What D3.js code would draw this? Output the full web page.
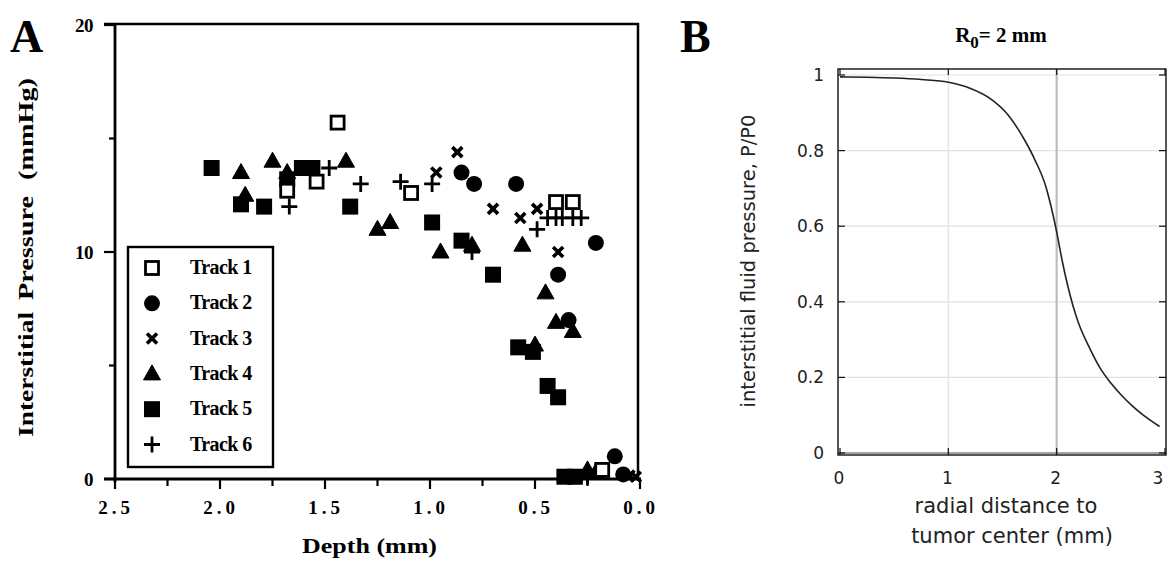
<!DOCTYPE html>
<html><head><meta charset="utf-8">
<script src="https://cdn.jsdelivr.net/npm/d3@7"></script>
<style>body{margin:0;background:#fff}svg{display:block}</style>
</head><body>
<svg id="c" width="1167" height="561"></svg>
<script>
// ---------- Panel A data (depth mm, pressure mmHg) ----------
const trackNames = ["Track 1","Track 2","Track 3","Track 4","Track 5","Track 6"];
const track1Depth = [1.44, 1.09, 1.68, 1.54, 0.40, 0.32, 0.18];
const track1P     = [15.7, 12.6, 12.7, 13.1, 12.2, 12.2, 0.4];
const track2Depth = [0.85, 0.79, 0.59, 0.21, 0.39, 0.34, 0.12, 0.08];
const track2P     = [13.5, 13.0, 13.0, 10.4, 9.0, 7.0, 1.0, 0.2];
const track3Depth = [0.87, 0.97, 0.70, 0.57, 0.49, 0.39, 0.05, 0.02];
const track3P     = [14.4, 13.5, 11.9, 11.5, 11.9, 10.0, 0.15, 0.1];
const track4Depth = [1.90, 1.75, 1.88, 1.68, 1.40, 1.25, 1.19, 0.95, 0.80, 0.56, 0.45, 0.40, 0.32, 0.50, 0.25, 0.21];
const track4P     = [13.5, 14.0, 12.5, 13.5, 14.0, 11.0, 11.3, 10.0, 10.3, 10.3, 8.2, 6.9, 6.5, 5.9, 0.4, 0.3];
const track5Depth = [2.04, 1.90, 1.79, 1.68, 1.61, 1.56, 1.38, 0.99, 0.85, 0.70, 0.58, 0.51, 0.44, 0.39, 0.36, 0.31];
const track5P     = [13.7, 12.1, 12.0, 13.2, 13.7, 13.7, 12.0, 11.3, 10.5, 9.0, 5.8, 5.6, 4.1, 3.6, 0.1, 0.1];
const track6Depth = [1.67, 1.48, 1.33, 1.14, 0.99, 0.80, 0.49, 0.44, 0.40, 0.37, 0.32, 0.28, 0.25];
const track6P     = [12.0, 13.7, 13.0, 13.1, 13.0, 10.0, 11.0, 11.5, 11.5, 11.5, 11.5, 11.5, 0.1];
const yTicksA = [0, 10, 20];
const xTicksA = ["2.5","2.0","1.5","1.0","0.5","0.0"];

// ---------- Panel B data ----------
const radius   = [0, 0.25, 0.5, 0.75, 1.0, 1.2, 1.4, 1.55, 1.7, 1.8, 1.9, 1.95, 2.0, 2.05, 2.1, 2.15, 2.2, 2.3, 2.4, 2.5, 2.6, 2.7, 2.8, 2.95];
const pressure = [0.995, 0.994, 0.992, 0.988, 0.981, 0.965, 0.935, 0.895, 0.83, 0.775, 0.705, 0.65, 0.585, 0.51, 0.445, 0.39, 0.345, 0.28, 0.225, 0.185, 0.152, 0.124, 0.10, 0.07];
const xTicksB = [0, 1, 2, 3];
const yTicksB = [0, 0.2, 0.4, 0.6, 0.8, 1];

const svg = d3.select("#c");
const serif = "'Liberation Serif','Times New Roman',serif";
const sans = "'DejaVu Sans',Verdana,sans-serif";

// ================= Panel A =================
const xA = d3.scaleLinear().domain([2.5, 0]).range([115, 640]);
const yA = d3.scaleLinear().domain([0, 20]).range([479, 25]);
const gA = svg.append("g");

// frame
gA.append("line").attr("x1",104).attr("x2",639).attr("y1",24).attr("y2",24).attr("stroke","#000").attr("stroke-width",2.5);
gA.append("line").attr("x1",638).attr("x2",638).attr("y1",23).attr("y2",480).attr("stroke","#000").attr("stroke-width",2.5);
gA.append("line").attr("x1",115).attr("x2",115).attr("y1",24).attr("y2",482).attr("stroke","#000").attr("stroke-width",2.8);
gA.append("line").attr("x1",104).attr("x2",641).attr("y1",479).attr("y2",479).attr("stroke","#000").attr("stroke-width",2.8);
// y ticks
[0,5,10,15,20].forEach(v=>{
  const major = v%10===0;
  gA.append("line").attr("x1", major?104:109).attr("x2",115).attr("y1",yA(v)).attr("y2",yA(v)).attr("stroke","#000").attr("stroke-width",2.2);
});
yTicksA.forEach(v=>{
  gA.append("text").attr("x",93).attr("y",yA(v)+7).attr("text-anchor","end")
    .attr("font-family",serif).attr("font-weight","bold").attr("font-size",19).attr("letter-spacing",-0.5).text(v);
});
// x ticks
d3.range(0, 2.51, 0.25).forEach(v=>{
  const major = Math.abs(v*2-Math.round(v*2))<1e-6;
  gA.append("line").attr("x1",xA(v)).attr("x2",xA(v)).attr("y1",479).attr("y2",major?489:486).attr("stroke","#000").attr("stroke-width",2.2);
});
xTicksA.forEach(t=>{
  gA.append("text").attr("x",xA(+t)+1).attr("y",514).attr("text-anchor","middle")
    .attr("font-family",serif).attr("font-weight","bold").attr("font-size",19).attr("letter-spacing",4).text(t);
});
gA.append("text").attr("x",302).attr("y",553)
  .attr("font-family",serif).attr("font-weight","bold").attr("font-size",21)
  .attr("textLength",135).attr("lengthAdjust","spacingAndGlyphs").text("Depth (mm)");
// y label as three words
[["Interstitial",437,125],["Pressure",300,104],["(mmHg)",180,102]].forEach(([w,y0,len])=>{
  gA.append("text").attr("transform",`translate(33,${y0}) rotate(-90)`)
    .attr("font-family",serif).attr("font-weight","bold").attr("font-size",22)
    .attr("textLength",len).attr("lengthAdjust","spacingAndGlyphs").text(w);
});
gA.append("text").attr("x",10).attr("y",52).attr("font-family",serif).attr("font-weight","bold").attr("font-size",46).text("A");

// marker drawing
function drawMarker(g, type, cx, cy) {
  if (type===0) {
    g.append("rect").attr("x",cx-6.5).attr("y",cy-6.5).attr("width",13).attr("height",13)
      .attr("fill","#fff").attr("stroke","#000").attr("stroke-width",2.8);
  } else if (type===1) {
    g.append("circle").attr("cx",cx).attr("cy",cy).attr("r",8).attr("fill","#000");
  } else if (type===2) {
    g.append("path").attr("d",`M${cx-5},${cy-5}L${cx+5},${cy+5}M${cx+5},${cy-5}L${cx-5},${cy+5}`)
      .attr("stroke","#000").attr("stroke-width",3.6).attr("fill","none");
  } else if (type===3) {
    g.append("path").attr("d",`M${cx},${cy-9}L${cx+8.5},${cy+6}L${cx-8.5},${cy+6}Z`).attr("fill","#000")
      .attr("stroke","#000").attr("stroke-width",1).attr("stroke-linejoin","round");
  } else if (type===4) {
    g.append("rect").attr("x",cx-8).attr("y",cy-8).attr("width",16).attr("height",16).attr("fill","#000");
  } else {
    g.append("path").attr("d",`M${cx-8},${cy}L${cx+8},${cy}M${cx},${cy-8}L${cx},${cy+8}`)
      .attr("stroke","#000").attr("stroke-width",2.8).attr("fill","none");
  }
}
const tracks = [[track1Depth,track1P],[track2Depth,track2P],[track3Depth,track3P],[track4Depth,track4P],[track5Depth,track5P],[track6Depth,track6P]];
const gPts = gA.append("g");
[4,3,1,2,5,0].forEach(i=>{
  const [d,p] = tracks[i];
  d.forEach((dv,j)=>drawMarker(gPts, i, xA(dv), yA(p[j])));
});

// legend
const leg = gA.append("g");
leg.append("rect").attr("x",128).attr("y",247).attr("width",145).attr("height",220)
  .attr("fill","#fff").attr("stroke","#000").attr("stroke-width",2.4);
trackNames.forEach((n,i)=>{
  const yy = 268 + i*35.3;
  drawMarker(leg, i, 152, yy);
  leg.append("text").attr("x",190).attr("y",yy+6).attr("font-family",serif).attr("font-weight","bold")
    .attr("font-size",20).attr("letter-spacing",-0.6).text(n);
});

// ================= Panel B =================
const xB = d3.scaleLinear().domain([0, 3]).range([840, 1165]);
const yB = d3.scaleLinear().domain([0, 1]).range([453, 75]);
const gB = svg.append("g");
// grid
[1].forEach(v=>gB.append("line").attr("x1",xB(v)).attr("x2",xB(v)).attr("y1",69).attr("y2",455).attr("stroke","#e2e2e2").attr("stroke-width",1.2));
[0.2,0.4,0.6,0.8,1].forEach(v=>gB.append("line").attr("x1",838).attr("x2",1166).attr("y1",yB(v)).attr("y2",yB(v)).attr("stroke","#e2e2e2").attr("stroke-width",1.2));
gB.append("line").attr("x1",xB(2)).attr("x2",xB(2)).attr("y1",69).attr("y2",455).attr("stroke","#bdbdbd").attr("stroke-width",2.2);
// frame
gB.append("rect").attr("x",838).attr("y",69).attr("width",328).attr("height",386).attr("fill","none").attr("stroke","#111").attr("stroke-width",1.4);
gB.append("line").attr("x1",840).attr("x2",1166).attr("y1",yB(0)).attr("y2",yB(0)).attr("stroke","#444").attr("stroke-width",1);
// ticks
yTicksB.forEach(v=>{
  gB.append("line").attr("x1",838).attr("x2",845).attr("y1",yB(v)).attr("y2",yB(v)).attr("stroke","#111").attr("stroke-width",1.2);
  gB.append("line").attr("x1",1159).attr("x2",1166).attr("y1",yB(v)).attr("y2",yB(v)).attr("stroke","#111").attr("stroke-width",1.2);
  gB.append("text").attr("x",824).attr("y",yB(v)+6).attr("text-anchor","end").attr("font-family",sans)
    .attr("font-size",17).attr("fill","#222").text(v);
});
xTicksB.forEach(v=>{
  gB.append("line").attr("x1",xB(v)).attr("x2",xB(v)).attr("y1",69).attr("y2",75).attr("stroke","#111").attr("stroke-width",1.2);
  gB.append("line").attr("x1",xB(v)).attr("x2",xB(v)).attr("y1",448).attr("y2",455).attr("stroke","#111").attr("stroke-width",1.2);
  gB.append("text").attr("x",v===3?1158:xB(v)-1).attr("y",484).attr("text-anchor","middle").attr("font-family",sans)
    .attr("font-size",17).attr("fill","#222").text(v);
});
// curve
const line = d3.line().x((d,i)=>xB(radius[i])).y(d=>yB(d)).curve(d3.curveMonotoneX);
gB.append("path").attr("d",line(pressure)).attr("fill","none").attr("stroke","#222").attr("stroke-width",1.6);
// labels
gB.append("text").attr("transform","translate(755,261) rotate(-90)").attr("text-anchor","middle")
  .attr("font-family",sans).attr("font-size",19.5).attr("fill","#222").text("interstitial fluid pressure, P/P0");
gB.append("text").attr("x",1006).attr("y",513).attr("text-anchor","middle").attr("font-family",sans)
  .attr("font-size",21).attr("fill","#222").text("radial distance to");
gB.append("text").attr("x",1012).attr("y",543).attr("text-anchor","middle").attr("font-family",sans)
  .attr("font-size",21).attr("fill","#222").text("tumor center (mm)");
const title = gB.append("text").attr("x",1001).attr("y",42).attr("text-anchor","middle")
  .attr("font-family",serif).attr("font-weight","bold").attr("font-size",21);
title.append("tspan").text("R");
title.append("tspan").attr("dy",6).attr("font-size",17).text("0");
title.append("tspan").attr("dy",-6).text("= 2 mm");
gB.append("text").attr("x",680).attr("y",52).attr("font-family",serif).attr("font-weight","bold").attr("font-size",46).text("B");
</script>
</body></html>
